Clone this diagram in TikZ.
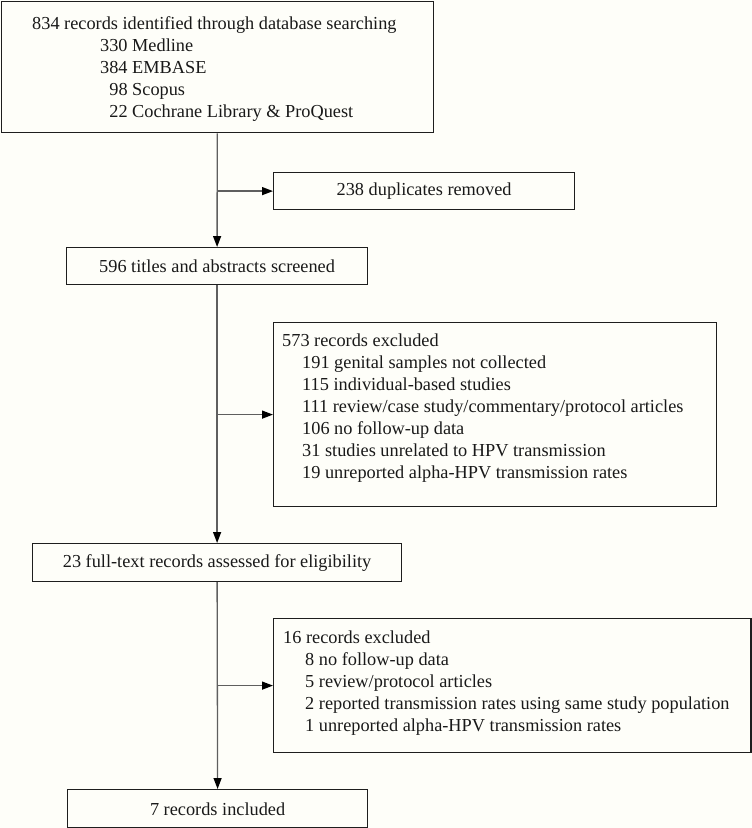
\documentclass[tikz,border=0pt]{standalone}
\usepackage{fontspec}
\setmainfont{Liberation Serif}
\usetikzlibrary{arrows.meta}
\definecolor{bgcol}{RGB}{254,254,249}
\definecolor{boxcol}{RGB}{30,30,30}
\definecolor{linecol}{RGB}{95,95,95}
\definecolor{txtcol}{RGB}{25,25,25}
\begin{document}
\begin{tikzpicture}[x=1pt,y=-1pt,
  box/.style={draw=boxcol, line width=1.2pt, inner sep=0pt, anchor=north west,
    text=txtcol, font=\fontsize{18.3}{22}\selectfont},
  txt/.style={inner sep=0pt, anchor=north west, align=left, text=txtcol,
    font=\fontsize{18.3}{22}\selectfont},
  conn/.style={draw=linecol, line width=1.3pt},
  arr/.style={conn, -{Triangle[length=11pt,width=8pt,color=black,fill=black]}}]
\fill[bgcol] (0,0) rectangle (752,828);
\useasboundingbox (0,0) rectangle (752,828);

% boxes
\node[box, minimum width=432, minimum height=131.5] (ident) at (0.6,0.6) {};
\node[box, minimum width=301, minimum height=37] (dup) at (273,172) {238 duplicates removed};
\node[box, minimum width=301, minimum height=37] (scr) at (66,247) {596 titles and abstracts screened};
\node[box, minimum width=443, minimum height=184] (exc1) at (273,322) {};
\node[box, minimum width=369, minimum height=38] (full) at (32,543) {23 full-text records assessed for eligibility};
\node[box, minimum width=477.4, minimum height=134] (exc2) at (273,618) {};
\node[box, minimum width=300, minimum height=38.4] (incl) at (67,789) {7 records included};

% texts
\node[txt] (identtxt) at (32,16.4) {834 records identified through database searching\\
\hspace*{68pt}330 Medline\\
\hspace*{68pt}384 EMBASE\\
\hspace*{68pt}\phantom{3}98 Scopus\\
\hspace*{68pt}\phantom{3}22 Cochrane Library \& ProQuest};

\node[txt] (exc1txt) at (282,333.4) {573 records excluded\\
\hspace*{20pt}191 genital samples not collected\\
\hspace*{20pt}115 individual-based studies\\
\hspace*{20pt}111 review/case study/commentary/protocol articles\\
\hspace*{20pt}106 no follow-up data\\
\hspace*{20pt}31 studies unrelated to HPV transmission\\
\hspace*{20pt}19 unreported alpha-HPV transmission rates};

\node[txt] (exc2txt) at (283,630.4) {16 records excluded\\
\hspace*{22pt}8 no follow-up data\\
\hspace*{22pt}5 review/protocol articles\\
\hspace*{22pt}2 reported transmission rates using same study population\\
\hspace*{22pt}1 unreported alpha-HPV transmission rates};

% connectors
\draw[arr] (ident.south) -- (scr.north);
\draw[arr] (scr.south) -- (full.north);
\draw[arr] (full.south) -- (incl.north);
\coordinate (j1) at (ident.south |- dup.west);
\coordinate (j2) at (scr.south |- exc1.west);
\coordinate (j3) at (full.south |- exc2.west);
\draw[arr] (j1) -- (dup.west);
\draw[arr] (j2) -- (exc1.west);
\draw[arr] (j3) -- (exc2.west);
\end{tikzpicture}
\end{document}
